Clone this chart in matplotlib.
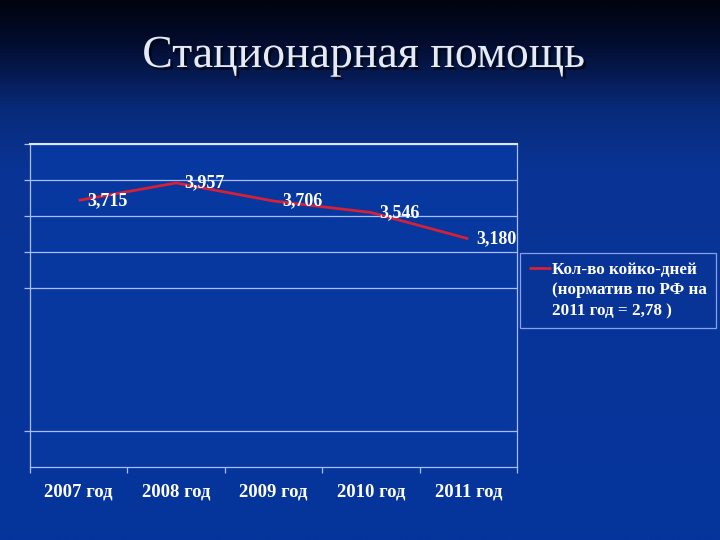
import numpy as np
import matplotlib
matplotlib.use("Agg")
import matplotlib.pyplot as plt
import matplotlib.patheffects as pe
from matplotlib.colors import LinearSegmentedColormap

# chart data
years = ["2007 год", "2008 год", "2009 год", "2010 год", "2011 год"]
bed_days = [3.715, 3.957, 3.706, 3.546, 3.180]
value_labels = ["3,715", "3,957", "3,706", "3,546", "3,180"]
grid_levels = [0.5, 2.5, 3.0, 3.5, 4.0, 4.5]
legend_text = "Кол-во койко-дней\n(норматив по РФ на\n2011 год = 2,78 )"
title = "Стационарная помощь"

W, H = 720, 540
fig = plt.figure(figsize=(W / 100, H / 100), dpi=100)

# slide background: dark navy on top fading into blue
bg = fig.add_axes([0, 0, 1, 1])
bg.set_axis_off()
cmap = LinearSegmentedColormap.from_list(
    "slide", [(0.0, "#01030f"), (0.08, "#030d30"), (0.2, "#082a7a"),
              (0.32, "#0a3596"), (1.0, "#05349c")])
grad = np.linspace(0, 1, 300).reshape(-1, 1)
bg.imshow(grad, aspect="auto", cmap=cmap, extent=[0, 1, 0, 1], origin="upper")

serif = ["Liberation Serif", "DejaVu Serif"]
grid_col = "#a8bdff"

# title with shadow
fig.text(364 / W, 1 - 67 / H, title, ha="center", va="baseline",
         fontsize=33, family=serif, color="#e6eaf6",
         path_effects=[pe.withSimplePatchShadow(offset=(2, -2), shadow_rgbFace="#000818", alpha=0.9)])

ax = fig.add_axes([30 / W, 1 - 467 / H, (517 - 30) / W, (467 - 144) / H])
ax.set_facecolor("#0638a0")
x = np.arange(len(years))
ax.plot(x, bed_days, color="#d42038", lw=2, solid_capstyle="butt")

for xi, yi, lab in zip(x, bed_days, value_labels):
    ax.annotate(lab, (xi, yi), xytext=(6, 0), textcoords="offset points",
                ha="left", va="center", fontsize=13, fontweight="bold",
                family=serif, color="white")

ax.set_xlim(-0.5, len(years) - 0.5)
ax.set_ylim(0, 4.5)
ax.set_yticks(grid_levels)
ax.set_yticklabels([])
ax.tick_params(axis="y", length=4, color=grid_col, width=0.9)
ax.grid(axis="y", color=grid_col, lw=0.9)
ax.set_axisbelow(True)

ax.set_xticks(x)
ax.set_xticklabels(years, fontsize=13.5, fontweight="bold", family=serif, color="white")
ax.set_xticks(np.arange(-0.5, len(years)), minor=True)
ax.tick_params(axis="x", which="major", length=0, pad=12)
ax.tick_params(axis="x", which="minor", length=4, color=grid_col, width=0.9)

for side in ["left", "right", "bottom"]:
    ax.spines[side].set_color(grid_col)
    ax.spines[side].set_linewidth(0.9)
ax.spines["top"].set_color("#dfe7ff")
ax.spines["top"].set_linewidth(1.5)

leg = ax.legend([ax.lines[0]], [legend_text], loc="upper left", mode="expand",
                bbox_to_anchor=(520 / W, 1 - 326 / H, 196 / W, 73 / H),
                bbox_transform=fig.transFigure, frameon=True, fancybox=False,
                handlelength=1.3, handletextpad=0.05, borderpad=0.5,
                borderaxespad=0, prop={"family": serif, "weight": "bold", "size": 12.3})
leg.get_frame().set_facecolor("none")
leg.get_frame().set_edgecolor(grid_col)
leg.get_frame().set_linewidth(0.9)
for t in leg.get_texts():
    t.set_color("white")
    t.set_linespacing(1.4)
# line sample sits next to the first text line, as in the source slide
handle = leg.get_lines()[0]
handle.set_ydata(np.asarray(handle.get_ydata()) + 16)

fig.savefig("out.png", dpi=100)
